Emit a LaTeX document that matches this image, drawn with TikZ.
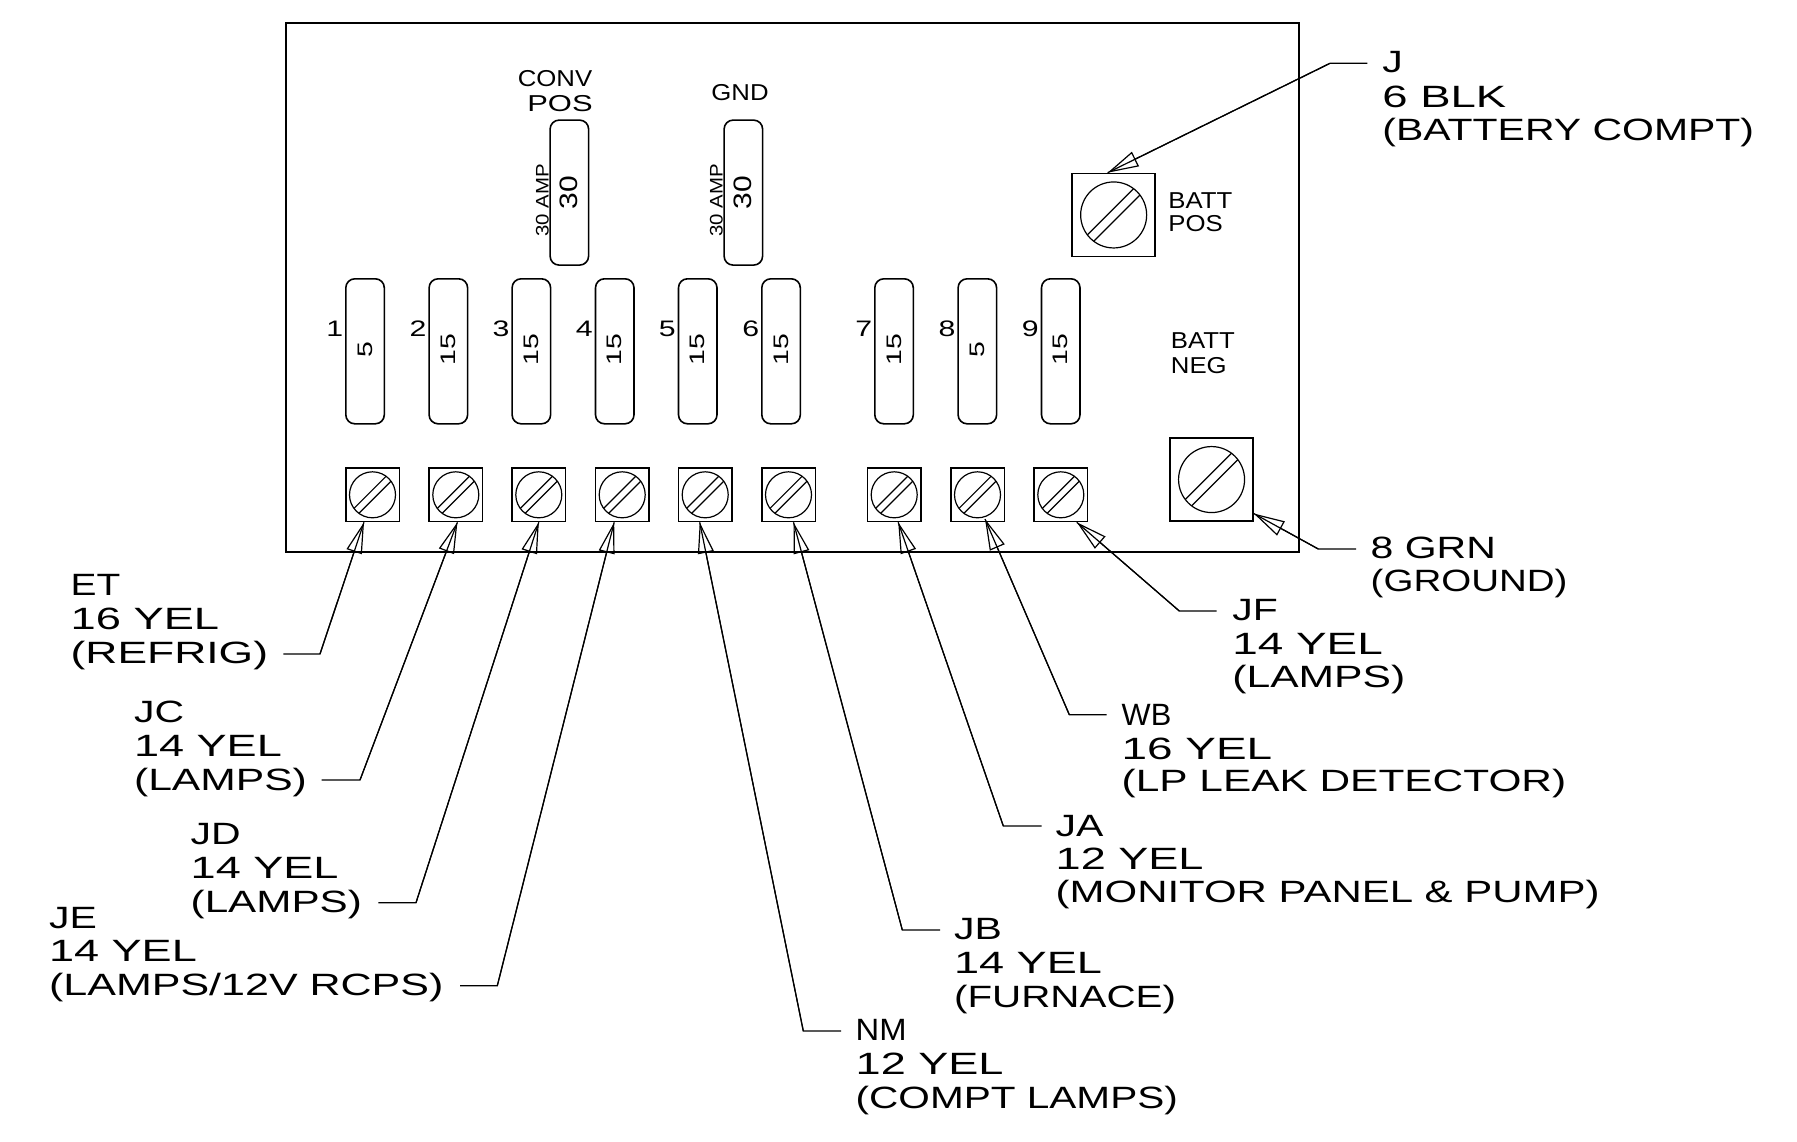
\documentclass[tikz,border=0pt]{standalone}
\usepackage{fontspec}
\usepackage{graphicx}
\setmainfont{Liberation Sans}
\newfontfamily\bigfont[FakeStretch=1.33]{Liberation Sans}
\newfontfamily\wbfont{Liberation Sans}
\newfontfamily\smfont[FakeStretch=1.12]{Liberation Sans}
\newfontfamily\digfont[FakeStretch=1.35]{Liberation Sans}
\newfontfamily\thirtyfont[FakeStretch=1.19]{Liberation Sans}
\newcommand\sx[2]{\scalebox{#1}[1]{#2}}
\usetikzlibrary{arrows.meta,calc}
\begin{document}
\begin{tikzpicture}[x=0.5pt,y=-0.5pt,
  lbl/.style={font=\bigfont\fontsize{15.4}{17}\selectfont, anchor=base west, inner sep=0pt},
  sml/.style={font=\smfont\fontsize{11.5}{13}\selectfont, inner sep=0pt, anchor=base west},
  fusenum/.style={font=\digfont\fontsize{11.2}{13}\selectfont, inner sep=0pt, anchor=base east},
  fuseval/.style={font=\digfont\fontsize{10.5}{12}\selectfont, inner sep=0pt, rotate=90},
  bigval/.style={font=\thirtyfont\fontsize{12.6}{14}\selectfont, inner sep=0pt, rotate=90},
  ampval/.style={font=\smfont\fontsize{9.1}{10}\selectfont, inner sep=0pt, rotate=90},
  fusebox/.style={draw, line width=0.8pt, rounded corners=4.5pt, minimum width=19.25pt, minimum height=72.5pt, inner sep=0pt, anchor=north west},
  term/.style={draw, line width=0.75pt, minimum size=26.75pt, inner sep=0pt, anchor=north west},
  bigterm/.style={draw, line width=0.75pt, minimum size=41.5pt, inner sep=0pt, anchor=north west},
  lead/.style={line width=0.6pt},
  arrowlead/.style={line width=0.6pt, {Triangle[open,length=15.5pt,width=8pt]}-},
  screwS/.pic={\draw[line width=0.6pt] (0,0) circle[radius=11.5pt];
    \draw[line width=0.6pt] (-13.6,18.55)--(18.55,-13.6) (-18.55,13.6)--(13.6,-18.55);},
  screwL/.pic={\draw[line width=0.6pt] (0,0) circle[radius=16.5pt];
    \draw[line width=0.6pt] (-19.93,26.3)--(26.3,-19.93) (-26.3,19.93)--(19.93,-26.3);}
]
\useasboundingbox (0,0) rectangle (1797,1141);

% panel
\node[draw, line width=1pt, minimum width=506.5pt, minimum height=264.5pt, anchor=north west, inner sep=0pt] (panel) at (285,22) {};

% small fuses
\foreach \i/\x/\v in {1/345/5, 2/428.3/15, 3/511.3/15, 4/594.7/15, 5/677.7/15, 6/761/15, 7/874/15, 8/957.3/5, 9/1040.7/15} {
  \node[fusebox] (f\i) at (\x,278) {};
  \node[fuseval] (fv\i) at ($(f\i.center)+(0,-1.5)$) {\v};
  \node[fusenum] (fn\i) at (\x-1.5,336) {\i};
}

% big fuses
\node[fusebox] (fconv) at (549.3,119.3) {};
\node[fusebox] (fgnd) at (723.3,119.3) {};
\node[bigval] (v30a) at ($(fconv.center)+(-1,0)$) {30};
\node[bigval] (v30b) at ($(fgnd.center)+(-1,0)$) {30};
\node[ampval] (amp30a) at ($(fconv.center)+(-27,7.5)$) {30 AMP};
\node[ampval] (amp30b) at ($(fgnd.center)+(-27,7.5)$) {30 AMP};

% small labels
\node[sml, anchor=base] (conv) at (555,86) {CONV};
\node[sml, anchor=base] (convpos) at (560,111.7) {\sx{1.2}{POS}};
\node[sml, anchor=base] (gnd) at (740,100.7) {GND};
\node[sml] (bp1) at (1168,208) {BATT};
\node[sml] (bp2) at (1168,231.7) {POS};
\node[sml] (bn1) at (1170.5,348) {BATT};
\node[sml] (bn2) at (1170.5,373) {NEG};

% terminals
\foreach \i/\x/\dx/\dy in {1/345/-8.5/0, 2/428.3/1.6/0, 3/511.3/0/0, 4/594.7/-8/0, 5/677.7/-5.5/0, 6/761/5/0, 7/866.7/4/0, 8/950/7.5/-3.3, 9/1033.3/16/0} {
  \node[term] (t\i) at (\x,467.3) {};
  \pic at (t\i.center) {screwS};
  \coordinate (p\i) at ($(t\i.south)+(\dx,\dy)$);
}
\node[bigterm] (bpos) at (1071.4,172.7) {};
\pic at (bpos.center) {screwL};
\node[bigterm] (bneg) at (1169.3,437.3) {};
\pic at (bneg.center) {screwL};
\coordinate (pp) at ($(bpos.north)+(-6,0)$);
\coordinate (pn) at ($(bneg.east)+(0,34)$);

% label texts
\node[lbl] (et1) at (70.3,595.3) {\sx{0.95}{ET}};
\node[lbl] (et2) at (70.3,629.3) {\sx{1.105}{16 YEL}};
\node[lbl] (et3) at (70.3,663.3) {\sx{1.084}{(REFRIG)}};
\node[lbl] (jc1) at (133.7,722) {JC};
\node[lbl] (jc2) at (133.7,756) {\sx{1.1}{14 YEL}};
\node[lbl] (jc3) at (133.7,790) {\sx{1.04}{(LAMPS)}};
\node[lbl] (jd1) at (190.3,844) {JD};
\node[lbl] (jd2) at (190.3,878) {\sx{1.1}{14 YEL}};
\node[lbl] (jd3) at (190.3,912) {\sx{1.03}{(LAMPS)}};
\node[lbl] (je1) at (48.7,928) {JE};
\node[lbl] (je2) at (48.7,961.5) {\sx{1.1}{14 YEL}};
\node[lbl] (je3) at (48.7,995) {\sx{1.05}{(LAMPS/12V RCPS)}};
\node[lbl] (nm1) at (855.3,1040.7) {\sx{0.8}{NM}};
\node[lbl] (nm2) at (855.3,1074.3) {\sx{1.1}{12 YEL}};
\node[lbl] (nm3) at (855.3,1108.3) {\sx{0.99}{(COMPT LAMPS)}};
\node[lbl] (jb1) at (953.7,939) {JB};
\node[lbl] (jb2) at (953.7,973.3) {\sx{1.1}{14 YEL}};
\node[lbl] (jb3) at (953.7,1007.7) {\sx{0.985}{(FURNACE)}};
\node[lbl] (ja1) at (1055.3,836) {JA};
\node[lbl] (ja2) at (1055.3,869.3) {\sx{1.1}{12 YEL}};
\node[lbl] (ja3) at (1055.3,902.7) {\sx{1.024}{(MONITOR PANEL \& PUMP)}};
\node[lbl, font=\wbfont\fontsize{15.4}{17}\selectfont] (wb1) at (1121.3,725) {WB};
\node[lbl] (wb2) at (1121.3,759) {\sx{1.12}{16 YEL}};
\node[lbl] (wb3) at (1121.3,791.7) {\sx{1.035}{(LP LEAK DETECTOR)}};
\node[lbl] (jf1) at (1232,620) {JF};
\node[lbl] (jf2) at (1232,654) {\sx{1.12}{14 YEL}};
\node[lbl] (jf3) at (1232,687.3) {\sx{1.04}{(LAMPS)}};
\node[lbl] (gr1) at (1370.3,558.3) {8 GRN};
\node[lbl] (gr2) at (1370.3,591.7) {\sx{0.94}{(GROUND)}};
\node[lbl] (j1) at (1382,72.7) {J};
\node[lbl] (j2) at (1382,107.3) {\sx{1.11}{6 BLK}};
\node[lbl] (j3) at (1382,140.7) {(BATTERY COMPT)};

% leader coordinates
\coordinate (hET) at (283.3,654);   \coordinate (eET) at (320,654);
\coordinate (hJC) at (321.7,780);   \coordinate (eJC) at (360,780);
\coordinate (hJD) at (378.3,902.7); \coordinate (eJD) at (416,902.7);
\coordinate (hJE) at (460,985.7);   \coordinate (eJE) at (497.3,985.7);
\coordinate (hNM) at (841,1031);    \coordinate (eNM) at (803.3,1031);
\coordinate (hJB) at (940,930);     \coordinate (eJB) at (902.3,930);
\coordinate (hJA) at (1041.7,826);  \coordinate (eJA) at (1003.3,826);
\coordinate (hWB) at (1106.7,714.7);\coordinate (eWB) at (1069.3,714.7);
\coordinate (hJF) at (1216.7,611);  \coordinate (eJF) at (1179.3,611);
\coordinate (hGR) at (1356,549);    \coordinate (eGR) at (1318.3,549);
\coordinate (hJ) at (1367.3,63.3);  \coordinate (eJ) at (1330,63.3);

% leaders
\foreach \p/\n in {p1/ET, p2/JC, p3/JD, p4/JE, p5/NM, p6/JB, p7/JA, p8/WB, p9/JF, pn/GR, pp/J} {
  \draw[lead] (\p) -- (e\n) -- (h\n);
  \draw[arrowlead] (\p) -- (e\n);
}
\end{tikzpicture}
\end{document}
